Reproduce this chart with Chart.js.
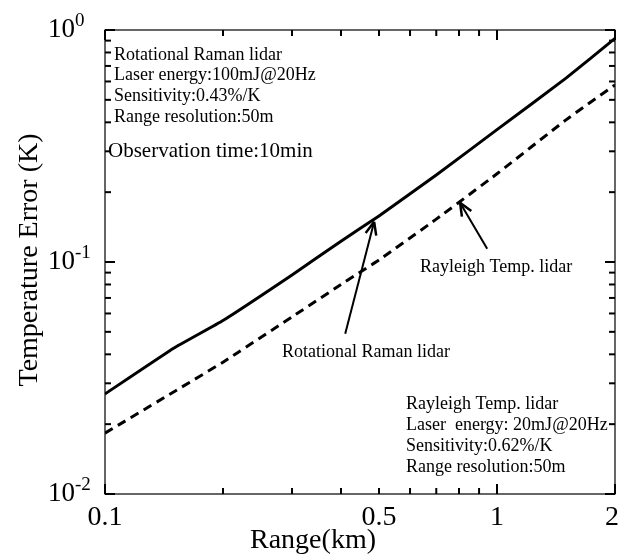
<!DOCTYPE html>
<html>
<head>
<meta charset="utf-8">
<script src="https://cdn.jsdelivr.net/npm/chart.js@4.4.1/dist/chart.umd.min.js"></script>
<style>
  html, body { margin: 0; padding: 0; background: #fff; }
  canvas { display: block; }
</style>
</head>
<body>
<canvas id="chart" width="625" height="554"></canvas>
<script>
// values (range in km, error in K)
const rangeKm = [0.1, 0.15, 0.2, 0.3, 0.4, 0.5, 0.7, 1.0, 1.5, 2.0];
const ramanError = [0.027, 0.0426, 0.056, 0.088, 0.123, 0.158, 0.237, 0.372, 0.62, 0.92];
const rayleighError = [0.0183, 0.0276, 0.037, 0.058, 0.080, 0.102, 0.153, 0.24, 0.41, 0.58];

const xTickLabels = [0.1, 0.5, 1, 2];
const xMinorTicks = [0.2, 0.3, 0.4, 0.5, 0.6, 0.7, 0.8, 0.9];
const yTickExponents = [0, -1, -2];
const yMinorTicks = [0.02, 0.03, 0.04, 0.05, 0.06, 0.07, 0.08, 0.09,
                     0.2, 0.3, 0.4, 0.5, 0.6, 0.7, 0.8, 0.9];

const ramanNotes = ['Rotational Raman lidar', 'Laser energy:100mJ@20Hz',
                    'Sensitivity:0.43%/K', 'Range resolution:50m'];
const rayleighNotes = ['Rayleigh Temp. lidar', 'Laser  energy: 20mJ@20Hz',
                       'Sensitivity:0.62%/K', 'Range resolution:50m'];

// arrows: [from, to] in data units
const arrows = [
  { label: 'Rotational Raman lidar', from: [0.41, 0.049], to: [0.486, 0.149], text: [282, 357] },
  { label: 'Rayleigh Temp. lidar', from: [0.944, 0.114], to: [0.805, 0.18], text: [420, 272] }
];

const serif = '"Liberation Serif", "Times New Roman", serif';

const frameAndText = {
  id: 'frameAndText',
  afterDraw(chart) {
    const { ctx, chartArea: a, scales: { x, y } } = chart;
    ctx.save();
    ctx.strokeStyle = '#000';
    ctx.fillStyle = '#000';

    ctx.lineWidth = 1.2;
    ctx.strokeRect(a.left, a.top, a.right - a.left, a.bottom - a.top);

    const line = (x1, y1, x2, y2) => {
      ctx.beginPath(); ctx.moveTo(x1, y1); ctx.lineTo(x2, y2); ctx.stroke();
    };

    // inward ticks on all four sides
    ctx.lineWidth = 2;
    xTickLabels.forEach(v => {
      const px = x.getPixelForValue(v);
      const len = (v === 0.5) ? 6 : 10;
      line(px, a.bottom, px, a.bottom - len);
      line(px, a.top, px, a.top + len);
    });
    xMinorTicks.forEach(v => {
      const px = x.getPixelForValue(v);
      line(px, a.bottom, px, a.bottom - 6);
      line(px, a.top, px, a.top + 6);
    });
    yTickExponents.forEach(e => {
      const py = y.getPixelForValue(Math.pow(10, e));
      line(a.left, py, a.left + 10, py);
      line(a.right, py, a.right - 10, py);
    });
    yMinorTicks.forEach(v => {
      const py = y.getPixelForValue(v);
      line(a.left, py, a.left + 6, py);
      line(a.right, py, a.right - 6, py);
    });

    // tick labels
    ctx.font = '28px ' + serif;
    ctx.textAlign = 'center';
    ctx.textBaseline = 'alphabetic';
    xTickLabels.forEach(v => {
      const px = x.getPixelForValue(v);
      ctx.fillText(String(v), Math.min(px, 612), 525);
    });
    yTickExponents.forEach(e => {
      const py = y.getPixelForValue(Math.pow(10, e));
      ctx.font = '27px ' + serif;
      ctx.textAlign = 'right';
      ctx.fillText('10', 75, py + 7);
      ctx.font = '19px ' + serif;
      ctx.textAlign = 'left';
      ctx.fillText(String(e), 75, py - 4);
    });

    // axis titles
    ctx.font = '28px ' + serif;
    ctx.textAlign = 'center';
    ctx.fillText('Range(km)', 313, 548);
    ctx.save();
    ctx.translate(37, 260);
    ctx.rotate(-Math.PI / 2);
    ctx.font = '28px ' + serif;
    ctx.fillText('Temperature Error (K)', 0, 0);
    ctx.restore();

    // note blocks
    ctx.textAlign = 'left';
    ctx.font = '18px ' + serif;
    const topBase = [60, 80, 101, 122];
    ramanNotes.forEach((t, i) => ctx.fillText(t, a.left + 9, topBase[i]));
    ctx.font = '21px ' + serif;
    ctx.fillText('Observation time:10min', a.left + 3, 157);
    ctx.font = '18px ' + serif;
    const botBase = [409, 430, 451, 472];
    rayleighNotes.forEach((t, i) => ctx.fillText(t, 406, botBase[i]));

    // arrows
    arrows.forEach(ar => {
      const x1 = x.getPixelForValue(ar.from[0]), y1 = y.getPixelForValue(ar.from[1]);
      const x2 = x.getPixelForValue(ar.to[0]), y2 = y.getPixelForValue(ar.to[1]);
      ctx.lineWidth = 2;
      line(x1, y1, x2, y2);
      const ang = Math.atan2(y2 - y1, x2 - x1);
      ctx.lineWidth = 2.5;
      [0.4, -0.4].forEach(d => {
        line(x2, y2, x2 - 14 * Math.cos(ang + d), y2 - 14 * Math.sin(ang + d));
      });
      ctx.font = '18px ' + serif;
      ctx.fillText(ar.label, ar.text[0], ar.text[1]);
    });

    ctx.restore();
  }
};

new Chart(document.getElementById('chart'), {
  type: 'line',
  data: {
    datasets: [
      {
        label: 'Rotational Raman lidar',
        data: rangeKm.map((r, i) => ({ x: r, y: ramanError[i] })),
        borderColor: '#000',
        borderWidth: 3,
        pointRadius: 0,
        tension: 0.1
      },
      {
        label: 'Rayleigh Temp. lidar',
        data: rangeKm.map((r, i) => ({ x: r, y: rayleighError[i] })),
        borderColor: '#000',
        borderWidth: 3,
        borderDash: [9, 6],
        pointRadius: 0,
        tension: 0.1
      }
    ]
  },
  options: {
    responsive: false,
    animation: false,
    layout: { padding: { left: 105, right: 10, top: 30, bottom: 60 } },
    plugins: { legend: { display: false }, tooltip: { enabled: false } },
    scales: {
      x: { type: 'logarithmic', min: 0.1, max: 2, display: false },
      y: { type: 'logarithmic', min: 0.01, max: 1, display: false }
    }
  },
  plugins: [frameAndText]
});
</script>
</body>
</html>
